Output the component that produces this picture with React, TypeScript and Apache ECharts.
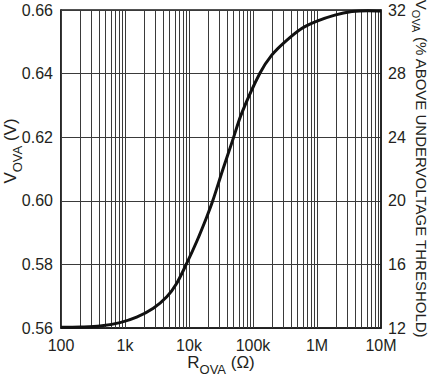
import React, { useEffect, useRef } from "react";
import * as echarts from "echarts";

// Resistance R_OVA (ohms) and resulting V_OVA (V)
const rOva = [
  100, 200, 407, 837, 1520, 2770, 4500, 6400, 9200, 13200, 19000, 23500, 33600,
  48000, 66500, 128000, 196000, 316000, 576000, 1000000, 1900000, 3500000,
  6300000, 10000000,
];
const vOva = [
  0.5602, 0.5603, 0.5606, 0.5617, 0.5634, 0.5662, 0.5698, 0.574, 0.5803, 0.5872,
  0.595, 0.6, 0.6097, 0.619, 0.6275, 0.6401, 0.6458, 0.65, 0.6542, 0.6565,
  0.6584, 0.6595, 0.6598, 0.6597,
];

const xTickValues = [100, 1000, 10000, 100000, 1000000, 10000000];
const xTickLabels = ["100", "1k", "10k", "100k", "1M", "10M"];
const decadeMultipliers = [1, 2, 3, 4, 5, 6, 7, 8, 9];
const leftMin = 0.56;
const leftMax = 0.66;
const leftStep = 0.02;
const rightMin = 12;
const rightMax = 32;
const rightStep = 4;

const FONT = "'Liberation Sans', Arial, sans-serif";
const TXT = "#231f20";
const GRID = "#3a3a3a";

export default function App() {
  const ref = useRef<HTMLDivElement>(null);
  useEffect(() => {
    if (!ref.current) return;
    const chart = echarts.init(ref.current, undefined, { renderer: "svg" });

    const gridXs: number[] = [];
    xTickValues.forEach((d, i) => {
      if (i === xTickValues.length - 1) return;
      decadeMultipliers.forEach((m) => gridXs.push(d * m));
    });

    const labelMap: Record<string, string> = {};
    xTickValues.forEach((v, i) => (labelMap[String(v)] = xTickLabels[i]));

    const mk = (size: number, subSize: number) => ({
      m: { fontSize: size, fontFamily: FONT, color: TXT, lineHeight: size + 2, verticalAlign: "top" as const },
      s: {
        fontSize: subSize,
        fontFamily: FONT,
        color: TXT,
        lineHeight: subSize,
        padding: [Math.round(size * 0.5), 0, 0, 0],
        verticalAlign: "top" as const,
      },
    });

    chart.setOption({
      animation: false,
      grid: {
        left: 61,
        right: 54,
        top: 10,
        bottom: 52,
        show: true,
        borderColor: "#1a1a1a",
        borderWidth: 1.5,
        outerBoundsMode: "none",
      },
      xAxis: {
        type: "log",
        logBase: 10,
        min: 100,
        max: 10000000,
        name: "{m|R}{s|OVA}{m| (Ω)}",
        nameLocation: "middle",
        nameGap: 26,
        nameMoveOverlap: false,
        nameTextStyle: { rich: mk(17, 13) },
        axisLine: { show: true, lineStyle: { color: "#1a1a1a", width: 1.5 } },
        axisTick: { show: false },
        splitLine: { show: false },
        axisLabel: {
          margin: 9,
          fontSize: 16,
          fontFamily: FONT,
          color: TXT,
          formatter: (v: number) => labelMap[String(Math.round(v))] ?? "",
        },
      },
      yAxis: [
        {
          type: "value",
          min: leftMin,
          max: leftMax,
          interval: leftStep,
          position: "left",
          name: "{m|V}{s|OVA}{m| (V)}",
          nameLocation: "middle",
          nameGap: 40,
          nameMoveOverlap: false,
          nameTextStyle: { rich: mk(17, 13), padding: [0, 0, 0, 36] },
          axisLine: { show: true, lineStyle: { color: "#1a1a1a", width: 1.5 } },
          axisTick: { show: false },
          splitLine: { show: true, lineStyle: { color: GRID, width: 1 } },
          axisLabel: {
            margin: 8,
            fontSize: 16,
            fontFamily: FONT,
            color: TXT,
            formatter: (v: number) => v.toFixed(2),
          },
        },
        {
          type: "value",
          min: rightMin,
          max: rightMax,
          interval: rightStep,
          position: "right",
          name: "{m|V}{s|OVA}{m| (% ABOVE UNDERVOLTAGE THRESHOLD)}",
          nameLocation: "middle",
          nameRotate: -90,
          nameGap: 31,
          nameMoveOverlap: false,
          nameTextStyle: { rich: mk(15, 11) },
          axisLine: { show: true, lineStyle: { color: "#1a1a1a", width: 1.5 } },
          axisTick: { show: false },
          splitLine: { show: false },
          axisLabel: {
            margin: 7,
            fontSize: 16,
            fontFamily: FONT,
            color: TXT,
          },
        },
      ],
      series: [
        {
          type: "line",
          name: "grid",
          z: 1,
          data: rOva.map((r, i) => [r, vOva[i]]),
          showSymbol: false,
          lineStyle: { opacity: 0 },
          silent: true,
          markLine: {
            silent: true,
            symbol: "none",
            label: { show: false },
            lineStyle: { color: GRID, width: 1, type: "solid" },
            data: gridXs.map((x) => ({ xAxis: x })),
          },
        },
        {
          type: "line",
          name: "VOVA",
          z: 5,
          yAxisIndex: 0,
          data: rOva.map((r, i) => [r, vOva[i]]),
          smooth: 0.3,
          showSymbol: false,
          lineStyle: { color: "#111", width: 3 },
        },
      ],
    });
    return () => chart.dispose();
  }, []);
  return (
    <div
      ref={ref}
      style={{ position: "fixed", left: 0, top: 0, width: 435, height: 380, background: "#fff" }}
    />
  );
}
